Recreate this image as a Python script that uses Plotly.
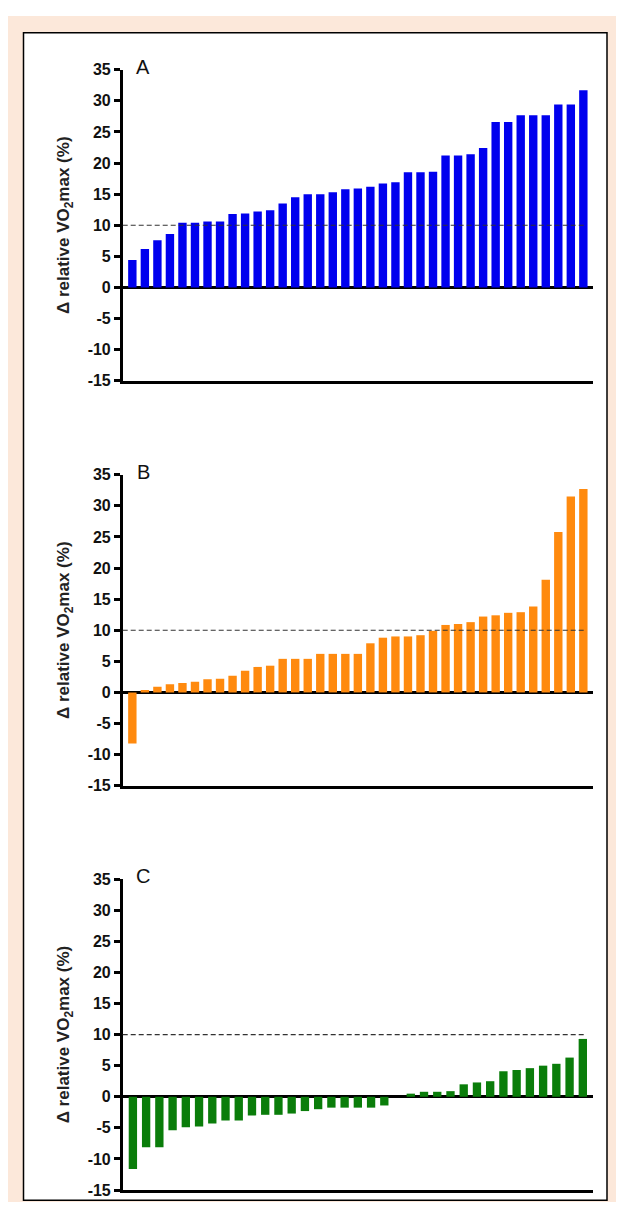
import plotly.graph_objects as go

# page is 624x1219; the figure appears offset 8px left, ~15px top and slightly
# compressed vertically in the screenshot, so page targets are mapped back
OFFX = 8
OFFY, SY = 14.8, 0.9875
W, H = 608, 1203

panel_labels = ["A", "B", "C"]
a_values = [4.4, 6.2, 7.6, 8.6, 10.4, 10.4, 10.6, 10.6, 11.8, 11.9, 12.2, 12.4, 13.5,
            14.5, 15.0, 15.0, 15.3, 15.8, 15.9, 16.2, 16.7, 16.9, 18.5, 18.5, 18.6,
            21.2, 21.2, 21.4, 22.4, 26.6, 26.6, 27.7, 27.7, 27.7, 29.4, 29.4, 31.7]
b_values = [-8.2, 0.4, 0.9, 1.3, 1.5, 1.7, 2.1, 2.2, 2.7, 3.5, 4.1, 4.3, 5.4, 5.4,
            5.4, 6.2, 6.2, 6.2, 6.2, 7.9, 8.8, 9.0, 9.0, 9.2, 9.9, 10.85, 11.0, 11.3,
            12.2, 12.4, 12.8, 12.9, 13.8, 18.1, 25.8, 31.5, 32.7]
c_values = [-11.6, -8.1, -8.1, -5.4, -4.9, -4.8, -4.3, -3.8, -3.8, -3.0, -2.9, -2.9,
            -2.7, -2.3, -2.0, -1.75, -1.75, -1.75, -1.75, -1.4, 0.0, 0.5, 0.8, 0.8,
            0.9, 2.0, 2.3, 2.5, 4.1, 4.3, 4.6, 5.0, 5.3, 6.3, 9.3]
series = [a_values, b_values, c_values]
colors = ["#0000ee", "#ff8a0e", "#0a7d0a"]
bar_widths = [0.67, 0.67, 0.63]
y_ticks = [-15, -10, -5, 0, 5, 10, 15, 20, 25, 30, 35]
y_range = [-15, 35]
threshold = 10
y_title = "<b>\u0394 relative VO<sub>2</sub>max (%)</b>"

# page-pixel layout (top, bottom of each y axis)
px_left, px_right = 122.7, 593.0
panel_px = [(68.6, 380.2), (474.3, 785.8), (879.3, 1190.8)]
PAD = 0.27
FONT = "Liberation Sans, Arial"


def px(v):
    return (v - OFFX) / W


def py(v):
    return 1 - ((v - OFFY) / SY) / H


fig = go.Figure()
shapes = []
annotations = []

# background frame
shapes.append(dict(type="rect", xref="paper", yref="paper", x0=px(8), x1=1,
                   y0=0, y1=1, fillcolor="#fce8da", line=dict(width=0),
                   layer="below"))
shapes.append(dict(type="rect", xref="paper", yref="paper", x0=px(23.5), x1=px(607),
                   y0=max(py(1216.5), 0.0015), y1=py(31.5), fillcolor="white",
                   line=dict(color="black", width=1.5), layer="below"))

for i, vals in enumerate(series):
    sfx = "" if i == 0 else str(i + 1)
    n = len(vals)
    xs = list(range(n))
    fig.add_trace(go.Bar(x=xs, y=vals, marker=dict(color=colors[i], line=dict(width=0)),
                         width=bar_widths[i], xaxis="x" + sfx, yaxis="y" + sfx,
                         showlegend=False))
    top, bot = panel_px[i]
    fig.layout["xaxis" + sfx] = dict(
        domain=[px(px_left), px(px_right)], anchor="y" + sfx,
        range=[-0.5 - PAD, n - 0.5 + PAD], showline=True, linecolor="black",
        linewidth=2.5, showticklabels=False, ticks="", showgrid=False, zeroline=False)
    fig.layout["yaxis" + sfx] = dict(
        domain=[py(bot), py(top)], anchor="x" + sfx, range=y_range,
        tickvals=y_ticks, ticktext=[str(t) for t in y_ticks],
        showline=True, linecolor="black", linewidth=2.5, ticks="outside",
        ticklen=6, tickwidth=2.5, tickcolor="black", showgrid=False,
        zeroline=True, zerolinecolor="black", zerolinewidth=2.5,
        tickfont=dict(family=FONT, size=16, color="#111", weight="bold"),
        title=dict(text=y_title, standoff=14,
                   font=dict(family=FONT, size=17, color="#222")))
    shapes.append(dict(type="line", xref="x" + sfx + " domain", yref="y" + sfx,
                       x0=0, x1=0.985, y0=threshold, y1=threshold,
                       line=dict(color="#333", width=1.2, dash="5px,3px")))
    annotations.append(dict(text=panel_labels[i], xref="paper", yref="paper",
                            x=px(143), y=py(top - 3), showarrow=False,
                            xanchor="center", yanchor="middle",
                            font=dict(family=FONT, size=20, color="#111")))

fig.update_layout(width=W, height=H, margin=dict(l=0, r=0, t=0, b=0),
                  paper_bgcolor="white", plot_bgcolor="rgba(0,0,0,0)",
                  shapes=shapes, annotations=annotations, bargap=0.33)
fig.write_html("out.html")
